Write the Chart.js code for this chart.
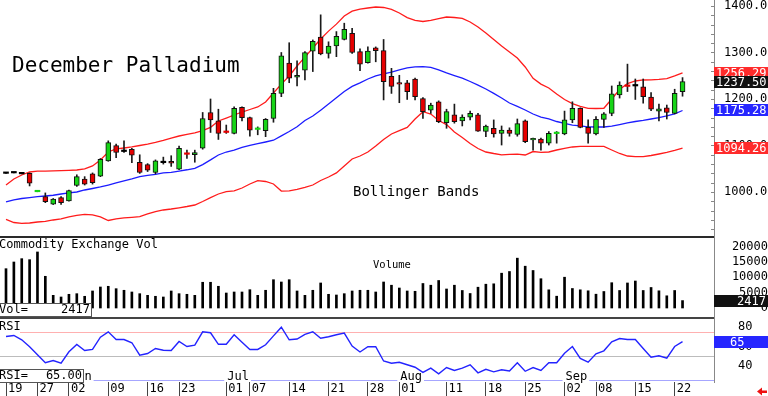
<!DOCTYPE html>
<html>
<head>
<meta charset="utf-8">
<script src="https://cdn.jsdelivr.net/npm/chart.js@4.4.1/dist/chart.umd.min.js"></script>
<style>
html,body{margin:0;padding:0;background:#fff;}
#wrap{position:relative;width:768px;height:396px;background:#fff;}
canvas{display:block;}
</style>
</head>
<body>
<div id="wrap"><canvas id="c" width="768" height="396"></canvas></div>
<script>
// ---------- data ----------
const opens = [1040,1041,1039,1040,1000.5,990,974,988,981,1014,
  1028,1039,1034,1067,1100,1087,1092,1064,1059,1042,
  1063,1066,1049,1081.5,1080,1094,1171,1153,1129,1126,
  1182,1160,1134.5,1132,1158,1212,1277,1247,1262,1303,
  1333,1298,1314,1328,1341,1302,1278,1310,1304,1249,
  1235,1235,1243,1201,1176,1194,1149,1166,1153,1161,
  1166,1130,1137,1126,1133,1124,1153,1112,1114,1105,
  1125.5,1125,1155,1180,1139,1125,1156,1169,1209,1229,
  1228,1226,1204,1174,1181,1169,1216];
const highs = [1040,1041,1039,1041,1001,998,986,990,1004,1037,
  1033,1041,1072,1110,1103,1110,1094,1080,1061,1069,
  1075,1078,1099,1090,1090,1171,1200,1178,1144,1183,
  1183,1161,1140,1158,1223,1300,1321,1282,1302,1327,
  1381,1323,1345,1363,1352,1308,1312,1312,1328,1266,
  1251,1240,1245,1203,1191,1196,1178,1189,1166,1174,
  1169,1144,1155,1142,1138,1157,1155,1116,1116,1130,
  1130,1174,1194,1181,1155,1162,1171,1228,1237,1275,
  1243,1243,1214,1189,1187,1221,1246];
const lows = [1040,1041,1039,1013,1000.5,977,973,973,980,1012,
  1015,1017,1033,1066,1074,1085,1063,1040,1044,1039,
  1060,1055,1048,1072,1064,1092,1128,1113,1126,1125,
  1153,1120,1123,1119,1150,1205,1235,1228,1241,1259,
  1295,1288,1291,1327,1298,1261,1277,1280,1198,1212,
  1192,1199,1198,1158,1169,1149,1137,1148,1142,1155,
  1130,1119,1118,1101,1120,1120,1106,1090,1090,1101,
  1105,1123,1149,1138,1105,1123,1139,1164,1202,1216,
  1199,1191,1175,1153,1157,1168,1206];
const closes = [1040,1041,1039,1019,1001,979,985,977,1003,1033,
  1017,1020,1070,1106,1085,1087,1079,1042,1047,1067,
  1063,1062,1094,1081,1085,1158,1155,1126,1128,1180,
  1160,1133,1135,1156,1212,1293,1245,1251,1300,1324,
  1297,1314,1335,1350,1300,1275,1303,1304,1237,1227,
  1232,1216,1205,1173,1187,1151,1173,1151,1161,1169,
  1131,1142,1125,1133,1126,1147,1108,1115,1105,1126,
  1126,1155,1180,1139,1126,1156,1168,1211,1230,1227,
  1228,1205,1178,1179,1171,1212,1237.5];
const upperBand = [1015,1028,1036.6,1043,1045,1045,1045.6,1046,1046.7,1047.3,
  1049.5,1056,1069,1086,1092.5,1094.6,1096.8,1100,1103,1106.5,
  1111,1116,1120.4,1123.7,1127,1132,1139,1152.7,1159,1165.6,
  1172,1177.4,1182.8,1193.5,1213,1232,1249.5,1271,1290,1309.7,
  1329,1346,1361,1378.5,1389,1393.5,1395.7,1397.8,1396.8,1392.5,
  1385,1375,1369,1366.7,1369,1373,1376.3,1375.3,1373.5,1365.6,
  1355,1342,1328,1314,1301,1288,1268.8,1244.5,1232,1223.7,
  1210.8,1199,1190,1183.9,1180,1179.6,1180,1200,1220.4,1233.3,
  1238.7,1240.9,1241,1242,1244,1249.5,1256.29];
const midBand = [978.5,983,986,988,990,991.4,993,995.7,998,1000,
  1004.3,1007.5,1010.8,1015,1019.4,1023.7,1028,1033,1035.6,1038,
  1041,1042,1045,1047.8,1051,1059,1069,1079.6,1086,1090,
  1095.7,1100,1104,1107.5,1111.3,1120.6,1130,1140.4,1153.8,1163.4,
  1176,1189,1202.6,1216,1227,1234.5,1243,1249.5,1254,1258,
  1262.8,1266.7,1269,1269.5,1268,1262.4,1256,1250.5,1245,1237.6,
  1230,1221.5,1212,1202,1191.4,1184,1176.4,1167.7,1161,1157,
  1151.6,1147.7,1144,1142,1140,1139.8,1139.8,1141.5,1145,1148.4,
  1151.6,1154,1157,1160,1163.5,1168,1175.28];
const lowerBand = [941,934.4,932.3,933.3,935.5,936.6,939.8,942,946.3,949.5,
  952,950.6,946.3,938.7,942,944.5,945.6,946.9,952.7,958,
  961.3,963.4,966,968.8,972,979.6,988,995.7,1001,1002.6,
  1008.6,1017.2,1024.3,1022.6,1017.2,1002,1002.6,1005.4,1009.7,1015,
  1024.7,1032.3,1041,1056,1071,1077.4,1086,1099,1113,1124.7,
  1132,1139,1157,1172.7,1167.7,1153.8,1145,1129,1117,1104.3,
  1093.6,1086,1082.8,1080,1080.7,1081.3,1079.6,1087,1085.4,1086,
  1090.3,1094,1096.8,1098,1098.3,1098.3,1098,1090.3,1082.8,1077.4,
  1076,1076,1078.5,1081.7,1085,1089.3,1094.26];
const volumes = [12820,15000,16090,15760,18270,10340,4140,3590,4470,4670,
  3820,5550,6850,7080,6300,5780,5220,4670,4140,3820,
  3590,5550,4670,4470,4140,8390,8390,7080,4890,5220,
  5220,5970,4140,5780,9230,8480,9230,5550,4140,5780,
  8160,4470,4240,4670,5550,5780,5780,5220,8480,7430,
  6520,5550,5450,7990,7430,8970,6200,7430,5710,4730,
  6780,7760,7890,11350,11900,16250,13630,12230,9550,5930,
  3850,10040,6360,5930,5610,4500,5380,8250,5710,8160,
  8800,5710,6690,5610,3980,5710,2417];
const rsi = [70.3,71.4,66.9,59.6,51.4,43,45.3,42.5,54.4,62,
  55.7,56.8,69.6,75.2,67.2,67.2,63.8,50.8,52.6,57.8,
  56,55.7,65.1,59.9,61.3,75.2,74.2,62.2,62.2,72.1,
  64.3,56.8,56.8,61.7,71,80,66.9,67.7,72.6,75.2,
  68.5,70,72.1,73.8,60.4,54.2,59.6,59.6,44.8,42.5,
  43.5,40.9,38.3,33,37.3,31.5,38,34.9,37.3,40.8,
  32.5,36.1,33.5,35.7,34.4,42.9,34.1,38,34.9,42.9,
  42.9,52.9,59.9,47.4,43.5,52.3,55.4,64.8,68.2,67.2,
  67.2,57.8,48.8,50.3,47.7,59.9,65];

const dateTickIndex = [0,4,8,13,18,22,28,31,36,41,46,50,56,61,66,71,75,80,85];
const dateTickLabels = ['19','27','02','09','16','23','01','07','14','21','28','01','11','18','25','02','08','15','22'];
const monthTickIndex = [8,28,50,71];
const monthLabels = ['Jun','Jul','Aug','Sep'];
const priceTicks = [1000,1100,1200,1300,1400];
const volumeTicks = [0,5000,10000,15000,20000];
const rsiTicks = [40,60,80];
const rsiLevels = [75,50];

// ---------- helpers ----------
const last = a => a[a.length - 1];
const P = arr => arr.map((v, i) => ({x: i, y: v}));
const MONO = "'DejaVu Sans Mono', monospace";
const GREEN = '#17d417', RED = '#e60000';
const candleColor = i => closes[i] > opens[i] ? GREEN : (closes[i] < opens[i] ? RED : '#000000');
const tinyBody = i => Math.abs(closes[i] - opens[i]) < 2.5;
const AXIS_W = 54;

function fitY(s){ s.width = AXIS_W; s.paddingTop = 0; s.paddingBottom = 0; s.paddingLeft = 0; s.paddingRight = 0; }
function fitX(s){ s.height = 14; s.paddingTop = 0; s.paddingBottom = 0; s.paddingLeft = 0; s.paddingRight = 0; }
const setTicks = vals => s => { s.ticks = vals.map(v => ({value: v})); };

const deco = {
  id: 'deco',
  beforeDatasetsDraw(chart){
    const {ctx, chartArea, scales} = chart;
    const yR = scales.yR;
    ctx.save();
    ctx.lineWidth = 1;
    const y1 = Math.round(yR.getPixelForValue(rsiLevels[0])) + 0.5;
    ctx.strokeStyle = '#ffb0b0';
    ctx.beginPath(); ctx.moveTo(20, y1); ctx.lineTo(chartArea.right, y1); ctx.stroke();
    const y2 = Math.round(yR.getPixelForValue(rsiLevels[1])) + 0.5;
    ctx.strokeStyle = '#bcbcbc';
    ctx.beginPath(); ctx.moveTo(0, y2); ctx.lineTo(chartArea.right, y2); ctx.stroke();
    ctx.restore();
  },
  afterDraw(chart){
    const {ctx, chartArea, scales} = chart;
    const {x: xS, yP, yV, yR} = scales;
    const R = chartArea.right;
    ctx.save();
    // panel separators
    ctx.fillStyle = '#2a2a2a';
    ctx.fillRect(0, Math.round(yV.top) - 1, R, 2);
    ctx.fillStyle = '#444';
    ctx.fillRect(0, Math.round(yR.top) - 1, R, 2);

    // minor ticks on price axis
    ctx.strokeStyle = '#888'; ctx.lineWidth = 1;
    for (let v = 920; v <= 1410; v += 20) {
      const y = Math.round(yP.getPixelForValue(v)) + 0.5;
      ctx.beginPath(); ctx.moveTo(R - 3, y); ctx.lineTo(R, y); ctx.stroke();
    }

    ctx.fillStyle = '#000';
    ctx.textBaseline = 'middle';
    ctx.textAlign = 'left';
    ctx.font = '21px ' + MONO;
    ctx.fillText('December Palladium', 12, 67);
    ctx.font = '14px ' + MONO;
    ctx.fillText('Bollinger Bands', 353, 192.5);
    ctx.font = '12px ' + MONO;
    ctx.fillText('Commodity Exchange Vol', -1, 244.5);
    ctx.font = '10.5px ' + MONO;
    ctx.fillText('Volume', 373, 265.5);
    ctx.font = '12px ' + MONO;
    ctx.fillText('RSI', -1, 326.5);

    // month labels with light blue rules
    ctx.font = '12px ' + MONO;
    monthTickIndex.forEach((ix, k) => {
      const x0 = xS.getPixelForValue(ix) + 1;
      ctx.fillStyle = '#000';
      ctx.fillText(monthLabels[k], x0, 376.5);
      const w = ctx.measureText(monthLabels[k]).width;
      const xEnd = k + 1 < monthTickIndex.length ? xS.getPixelForValue(monthTickIndex[k + 1]) - 2 : R;
      ctx.strokeStyle = '#a6a6ff';
      ctx.beginPath(); ctx.moveTo(x0 + w + 2, 380.5); ctx.lineTo(xEnd, 380.5); ctx.stroke();
    });

    // value boxes
    ctx.font = '12px ' + MONO;
    function box(x, y, w, h, label, val){
      ctx.fillStyle = '#fff'; ctx.fillRect(x, y, w, h);
      ctx.strokeStyle = '#555'; ctx.strokeRect(x + 0.5, y + 0.5, w - 1, h);
      ctx.fillStyle = '#000';
      ctx.textAlign = 'left'; ctx.fillText(label, -1, y + h / 2 + 0.5);
      ctx.textAlign = 'right'; ctx.fillText(val, x + w - 2, y + h / 2 + 0.5);
    }
    box(-1, 303, 93, 13, 'Vol=', String(last(volumes)));
    box(-1, 369, 85, 13, 'RSI=', last(rsi).toFixed(2));

    // axis badges
    function badge(y, text, bg, align, tx){
      ctx.fillStyle = bg;
      ctx.fillRect(R, Math.round(y) - 6, 768 - R, 12);
      ctx.fillStyle = '#fff';
      ctx.textAlign = align;
      ctx.fillText(text, tx, Math.round(y) + 0.5);
    }
    badge(yP.getPixelForValue(last(upperBand)), last(upperBand).toFixed(2), '#ff2b2b', 'left', R + 2);
    badge(yP.getPixelForValue(last(closes)), last(closes).toFixed(2), '#111', 'left', R + 2);
    badge(yP.getPixelForValue(last(midBand)), last(midBand).toFixed(2), '#2626ff', 'left', R + 2);
    badge(yP.getPixelForValue(last(lowerBand)), last(lowerBand).toFixed(2), '#ff2b2b', 'left', R + 2);
    badge(yV.getPixelForValue(last(volumes)), String(last(volumes)), '#111', 'right', 766);
    badge(yR.getPixelForValue(last(rsi)), String(Math.round(last(rsi))), '#2626ff', 'left', R + 16);

    // red arrow bottom right
    ctx.fillStyle = '#ee1111';
    ctx.beginPath(); ctx.moveTo(757, 391.5); ctx.lineTo(762, 387.5); ctx.lineTo(762, 395.5); ctx.closePath(); ctx.fill();
    ctx.fillRect(761, 390.5, 6, 2.5);
    ctx.restore();
  }
};

new Chart(document.getElementById('c'), {
  type: 'bar',
  data: {
    datasets: [
      {type:'line', label:'Upper band', data:P(upperBand), yAxisID:'yP', borderColor:'#ff1c1c', borderWidth:1.3, pointRadius:0, tension:0, order:6},
      {type:'line', label:'Middle band', data:P(midBand), yAxisID:'yP', borderColor:'#1c1cff', borderWidth:1.3, pointRadius:0, tension:0, order:6},
      {type:'line', label:'Lower band', data:P(lowerBand), yAxisID:'yP', borderColor:'#ff1c1c', borderWidth:1.3, pointRadius:0, tension:0, order:6},
      {type:'bar', label:'Range', data:highs.map((h, i) => ({x:i, y:[lows[i], h]})), yAxisID:'yP',
        backgroundColor:'#1a1a1a', barThickness:1, grouped:false, order:3},
      {type:'bar', label:'Body', data:opens.map((o, i) => ({x:i, y:[o, closes[i]]})), yAxisID:'yP',
        backgroundColor: c => candleColor(c.dataIndex), borderColor:'#111',
        borderWidth: c => tinyBody(c.dataIndex) ? 0 : 1, borderSkipped:false,
        barThickness:5, minBarLength:1.5, grouped:false, order:2},
      {type:'bar', label:'Volume', data:P(volumes), yAxisID:'yV', backgroundColor:'#000', barThickness:2, grouped:false, order:4},
      {type:'line', label:'RSI', data:P(rsi), yAxisID:'yR', borderColor:'#2323ff', borderWidth:1.4, pointRadius:0, tension:0, order:1}
    ]
  },
  options: {
    responsive:false, animation:false, devicePixelRatio:1,
    layout:{padding:0, autoPadding:false},
    plugins:{legend:{display:false}, tooltip:{enabled:false}},
    scales: {
      x: {type:'linear', position:'bottom', min:-0.763, max:90.0, offset:false,
        afterBuildTicks: setTicks(dateTickIndex), afterFit: fitX,
        ticks:{autoSkip:false, maxRotation:0, minRotation:0, align:'start', labelOffset:2, padding:-14,
          color:'#000', font:{family:MONO, size:12},
          callback: v => { const k = dateTickIndex.indexOf(v); return k >= 0 ? dateTickLabels[k] : ''; }},
        grid:{display:true, drawOnChartArea:false, drawTicks:true, tickLength:14, color:'#444', offset:false},
        border:{display:false}},
      yP: {type:'linear', position:'right', stack:'panels', stackWeight:237, min:903.2, max:1412.9,
        afterBuildTicks: setTicks(priceTicks), afterFit: fitY,
        ticks:{autoSkip:false, padding:2, crossAlign:'near', color:'#000', font:{family:MONO, size:12}, callback: v => Number(v).toFixed(2)},
        grid:{display:false}, border:{display:true, color:'#888', width:1}},
      yV: {type:'linear', position:'right', stack:'panels', stackWeight:81, min:-3260, max:23150,
        afterBuildTicks: setTicks(volumeTicks), afterFit: fitY,
        ticks:{autoSkip:false, padding:16, crossAlign:'far', color:'#000', font:{family:MONO, size:12}, callback: v => String(v)},
        grid:{display:false}, border:{display:true, color:'#888', width:1}},
      yR: {type:'linear', position:'right', stack:'panels', stackWeight:64, min:22.92, max:89.58,
        afterBuildTicks: setTicks(rsiTicks), afterFit: fitY,
        ticks:{autoSkip:false, padding:16, crossAlign:'near', color:'#000', font:{family:MONO, size:12}, callback: v => String(v)},
        grid:{display:false}, border:{display:true, color:'#888', width:1}}
    }
  },
  plugins:[deco]
});
</script>
</body>
</html>
